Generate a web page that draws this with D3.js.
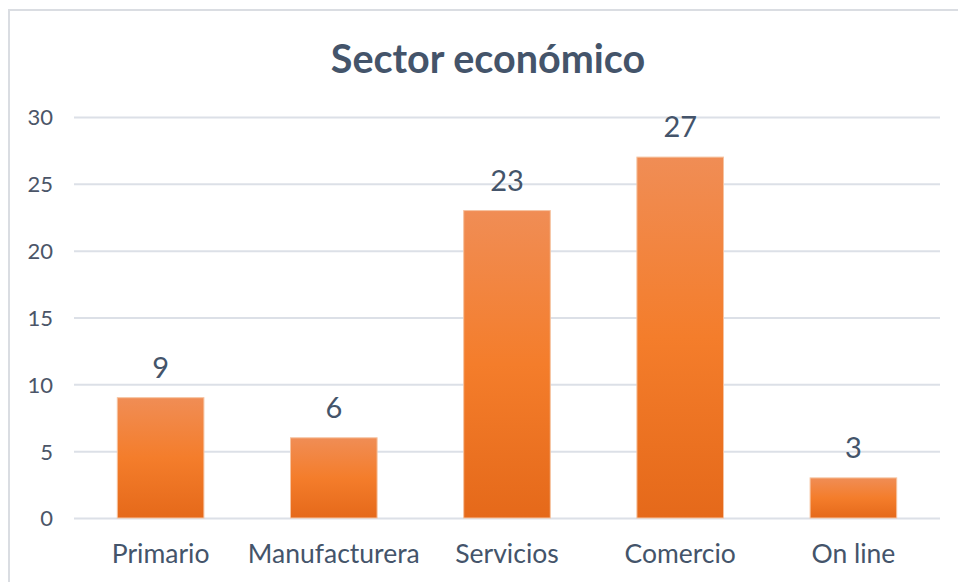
<!DOCTYPE html>
<html>
<head>
<meta charset="utf-8">
<script src="https://cdn.jsdelivr.net/npm/d3@7"></script>
<style>
  html, body { margin: 0; padding: 0; background: #ffffff; }
  svg { display: block; }
  text { font-family: Lato, "Open Sans", sans-serif; }
</style>
</head>
<body>
<svg id="chart" width="958" height="582"></svg>
<script>
const categories = ["Primario", "Manufacturera", "Servicios", "Comercio", "On line"];
const values = [9, 6, 23, 27, 3];
const yTicks = [0, 5, 10, 15, 20, 25, 30];
const title = "Sector económico";

const svg = d3.select("#chart");
const W = 958, H = 582;
const margin = { left: 74, right: 18, top: 117, bottom: 64 };

// chart border
svg.append("rect")
  .attr("x", 9).attr("y", 10)
  .attr("width", W + 20).attr("height", H + 20)
  .attr("fill", "#fff")
  .attr("stroke", "#DADDE2").attr("stroke-width", 2);

const x = d3.scaleBand()
  .domain(categories)
  .range([margin.left, W - margin.right])
  .paddingInner(0.5).paddingOuter(0.25);

const y = d3.scaleLinear()
  .domain([0, 30])
  .range([H - margin.bottom, margin.top]);

// gradient
const defs = svg.append("defs");
const grad = defs.append("linearGradient")
  .attr("id", "barGrad").attr("x1", 0).attr("y1", 0).attr("x2", 0).attr("y2", 1);
grad.append("stop").attr("offset", "0%").attr("stop-color", "#F08D55");
grad.append("stop").attr("offset", "50%").attr("stop-color", "#F47D2B");
grad.append("stop").attr("offset", "100%").attr("stop-color", "#E5691A");

// gridlines
const yAxis = d3.axisLeft(y).tickValues(yTicks)
  .tickSize(-(W - margin.right - margin.left)).tickPadding(21);
const gy = svg.append("g")
  .attr("transform", `translate(${margin.left},0)`)
  .call(yAxis);
gy.select(".domain").remove();
gy.selectAll(".tick line").attr("stroke", "#DCE0E7").attr("stroke-width", 2);
gy.selectAll(".tick text")
  .attr("fill", "#4B5568")
  .style("font-size", "22px")
  .attr("dy", "0.36em");

// bars
svg.append("g").selectAll("rect")
  .data(values)
  .join("rect")
  .attr("x", (d, i) => x(categories[i]))
  .attr("width", x.bandwidth())
  .attr("y", d => y(d))
  .attr("height", d => y(0) - y(d))
  .attr("fill", "url(#barGrad)")
  .attr("stroke", "#F6C3A0").attr("stroke-width", 1);

// data labels
svg.append("g").selectAll("text")
  .data(values)
  .join("text")
  .attr("x", (d, i) => x(categories[i]) + x.bandwidth() / 2)
  .attr("y", d => y(d) - 20)
  .attr("text-anchor", "middle")
  .attr("fill", "#44546A")
  .style("font-size", "29px")
  .text(d => d);

// category labels
const xAxis = d3.axisBottom(x).tickSize(0).tickPadding(0);
const gx = svg.append("g")
  .attr("transform", `translate(0,${y(0)})`)
  .call(xAxis);
gx.select(".domain").remove();
gx.selectAll(".tick text")
  .attr("fill", "#44546A")
  .attr("dy", null)
  .attr("y", 45)
  .style("font-size", "26.5px");

// title
svg.append("text")
  .attr("x", 488).attr("y", 73)
  .attr("text-anchor", "middle")
  .attr("fill", "#44546A")
  .style("font-size", "39.5px")
  .style("font-weight", "bold")
  .text(title);
</script>
</body>
</html>
